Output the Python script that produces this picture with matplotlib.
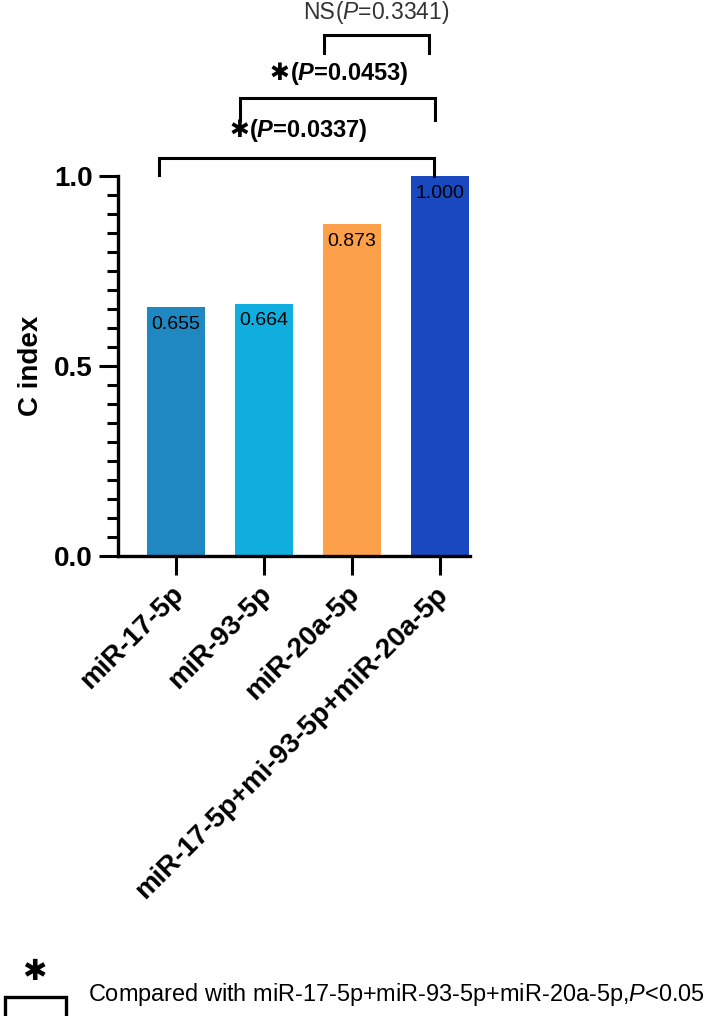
import numpy as np
import matplotlib.pyplot as plt
import matplotlib.transforms as mtransforms
from matplotlib.ticker import MultipleLocator
from matplotlib.offsetbox import TextArea, HPacker, AnnotationBbox

plt.rcParams['font.family'] = ['Liberation Sans', 'DejaVu Sans']
plt.rcParams['mathtext.fontset'] = 'custom'
plt.rcParams['mathtext.rm'] = 'Liberation Sans'
plt.rcParams['mathtext.it'] = 'Liberation Sans:italic'
plt.rcParams['mathtext.bf'] = 'Liberation Sans:bold'
plt.rcParams['mathtext.bfit'] = 'Liberation Sans:bold:italic'

# data
groups = ['miR-17-5p', 'miR-93-5p', 'miR-20a-5p', 'miR-17-5p+mi-93-5p+miR-20a-5p']
c_index = [0.655, 0.664, 0.873, 1.000]
bar_colors = ['#1F88C0', '#0FAEDE', '#FDA04A', '#1A48BE']

# comparisons: (left group, right group, marker, p label)
comparisons = [
    (0, 3, '✱', r'($\mathbfit{P}$=0.0337)'),
    (1, 3, '✱', r'($\mathbfit{P}$=0.0453)'),
    (2, 3, 'NS', r'($\mathit{P}$=0.3341)'),
]

fig = plt.figure(figsize=(7.08, 10.16), dpi=100)
ax = fig.add_axes([0.1667, 0.4528, 0.4972, 0.374])

x = np.arange(len(groups))
ax.bar(x, c_index, width=0.66, color=bar_colors, zorder=2)
for xi, v in zip(x, c_index):
    ax.text(xi, v - 0.045, f'{v:.3f}', ha='center', va='center', fontsize=14)

ax.set_xlim(-0.66, 3.34)
ax.set_ylim(0, 1.0)
ax.set_xticks(x)
ax.set_xticklabels(groups, rotation=45, ha='right', rotation_mode='anchor',
                   fontsize=20, fontweight='bold')
ax.set_yticks([0, 0.5, 1.0])
ax.set_yticklabels(['0.0', '0.5', '1.0'], fontsize=20, fontweight='bold')
ax.yaxis.set_minor_locator(MultipleLocator(0.05))
ax.tick_params(axis='y', which='major', length=14, width=2.2, pad=4)
ax.tick_params(axis='y', which='minor', length=8, width=2.2)
ax.tick_params(axis='x', which='major', length=14, width=2.2, pad=10)
# nudge rotated labels a little up and left
shift = mtransforms.ScaledTranslation(-6 / 100, 8 / 100, fig.dpi_scale_trans)
for lab in ax.get_xticklabels():
    lab.set_transform(lab.get_transform() + shift)
ax.set_ylabel('C index', fontsize=20, fontweight='bold')
ax.yaxis.set_label_coords(-0.21, 0.5)
for s in ['top', 'right']:
    ax.spines[s].set_visible(False)
for s in ['left', 'bottom']:
    ax.spines[s].set_linewidth(2.4)

# significance brackets (leg x in data units, heights in data units)
leg_x = [(-0.2, 2.93), (0.727, 2.94), (1.68, 2.875)]
bar_y = [1.047, 1.205, 1.37]
leg_bottom = [(1.003, 1.0), (1.147, 1.147), (1.324, 1.324)]
text_pos = [(1.39, 1.12), (1.85, 1.27), (2.27, 1.43)]
for (i, j, mark, label), (x0, x1), yb, (l0, l1), (tx, ty) in zip(
        comparisons, leg_x, bar_y, leg_bottom, text_pos):
    ax.plot([x0, x0, x1, x1], [l0, yb, yb, l1], color='black', lw=2.2,
            clip_on=False, solid_joinstyle='miter')
    if mark == 'NS':
        parts = [TextArea(mark, textprops=dict(fontsize=16.5, color='#333333')),
                 TextArea(label, textprops=dict(fontsize=16.5, color='#333333'))]
    else:
        parts = [TextArea(mark, textprops=dict(fontsize=17, fontweight='bold',
                                               family='DejaVu Sans')),
                 TextArea(label, textprops=dict(fontsize=17, fontweight='bold'))]
    box = HPacker(children=parts, sep=0, pad=0, align='center')
    ab = AnnotationBbox(box, (tx, ty), xycoords='data', frameon=False,
                        box_alignment=(0.5, 0.5), annotation_clip=False, pad=0)
    ax.add_artist(ab)

# footnote legend
fig.add_artist(plt.Line2D([5 / 708, 5 / 708, 66 / 708, 66 / 708],
                          [1 - 1016 / 1016, 1 - 997 / 1016, 1 - 997 / 1016, 1 - 1016 / 1016],
                          color='black', lw=2.4, transform=fig.transFigure,
                          solid_joinstyle='miter'))
fig.text(34 / 708, 1 - 972 / 1016, '✱', ha='center', va='center', fontsize=21,
         fontweight='bold', family='DejaVu Sans')
fig.text(88 / 708, 1 - 994 / 1016,
         r'Compared with miR-17-5p+miR-93-5p+miR-20a-5p,$\mathit{P}$<0.05',
         ha='left', va='center', fontsize=16.9)

fig.savefig('out.png', dpi=100)
